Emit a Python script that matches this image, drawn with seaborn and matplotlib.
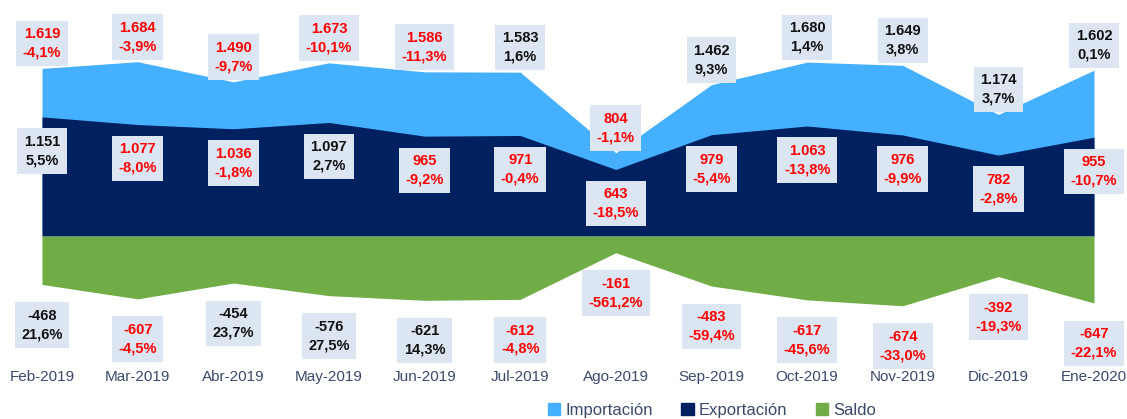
import matplotlib
matplotlib.use("Agg")
import matplotlib.pyplot as plt
from matplotlib.patches import Patch
import seaborn as sns

# Monthly trade figures (values and % change)
months = ["Feb-2019", "Mar-2019", "Abr-2019", "May-2019", "Jun-2019", "Jul-2019",
          "Ago-2019", "Sep-2019", "Oct-2019", "Nov-2019", "Dic-2019", "Ene-2020"]
importacion = [1619, 1684, 1490, 1673, 1586, 1583, 804, 1462, 1680, 1649, 1174, 1602]
importacion_pct = [-4.1, -3.9, -9.7, -10.1, -11.3, 1.6, -1.1, 9.3, 1.4, 3.8, 3.7, 0.1]
exportacion = [1151, 1077, 1036, 1097, 965, 971, 643, 979, 1063, 976, 782, 955]
exportacion_pct = [5.5, -8.0, -1.8, 2.7, -9.2, -0.4, -18.5, -5.4, -13.8, -9.9, -2.8, -10.7]
saldo = [-468, -607, -454, -576, -621, -612, -161, -483, -617, -674, -392, -647]
saldo_pct = [21.6, -4.5, 23.7, 27.5, 14.3, -4.8, -561.2, -59.4, -45.6, -33.0, -19.3, -22.1]

sns.set_theme(style="white")
plt.rcParams["font.family"] = ["Liberation Sans", "DejaVu Sans"]

c_imp, c_exp, c_sal = "#45B0FF", "#002060", "#70AD47"
txt_col = "#3A4A6B"
box_col = "#DCE6F2"

fig = plt.figure(figsize=(11.27, 4.19), dpi=100)
ax = fig.add_axes([42 / 1127, 57 / 419, 1052 / 1127, 362 / 419])

x = list(range(len(months)))
ax.fill_between(x, 0, importacion, color=c_imp, linewidth=0)
ax.fill_between(x, 0, exportacion, color=c_exp, linewidth=0)
ax.fill_between(x, saldo, 0, color=c_sal, linewidth=0)


def fmt_val(v):
    return f"{v:,}".replace(",", ".")


def fmt_pct(p):
    return f"{p:.1f}%".replace(".", ",")


def label(xi, y, v, p):
    col = "#FF0000" if p < 0 else "#111111"
    ax.text(xi, y, f"{fmt_val(v)}\n{fmt_pct(p)}", ha="center", va="center",
            fontsize=10.5, fontweight="bold", color=col, linespacing=1.4,
            bbox=dict(boxstyle="square,pad=0.45", fc=box_col, ec="none"), zorder=5)


for i in x:
    label(i, importacion[i] + 240, importacion[i], importacion_pct[i])
    label(i, exportacion[i] - 330, exportacion[i], exportacion_pct[i])
    label(i, saldo[i] - 390, saldo[i], saldo_pct[i])

ax.set_xlim(0, len(months) - 1)
ax.set_ylim(-1217, 2280)
ax.set_xticks(x)
ax.set_xticklabels(months, fontsize=11, color=txt_col)
ax.tick_params(axis="x", length=0, pad=6)
ax.set_yticks([])
sns.despine(ax=ax, left=True, bottom=True)

handles = [Patch(color=c_imp, label="Importación"),
           Patch(color=c_exp, label="Exportación"),
           Patch(color=c_sal, label="Saldo")]
leg = fig.legend(handles=handles, loc="center", bbox_to_anchor=(712 / 1127, 9 / 419),
                 ncol=3, frameon=False, fontsize=12, handlelength=0.75, handleheight=0.75,
                 handletextpad=0.3, columnspacing=1.7, borderaxespad=0)
for t in leg.get_texts():
    t.set_color(txt_col)

fig.savefig("out.png", dpi=100)
